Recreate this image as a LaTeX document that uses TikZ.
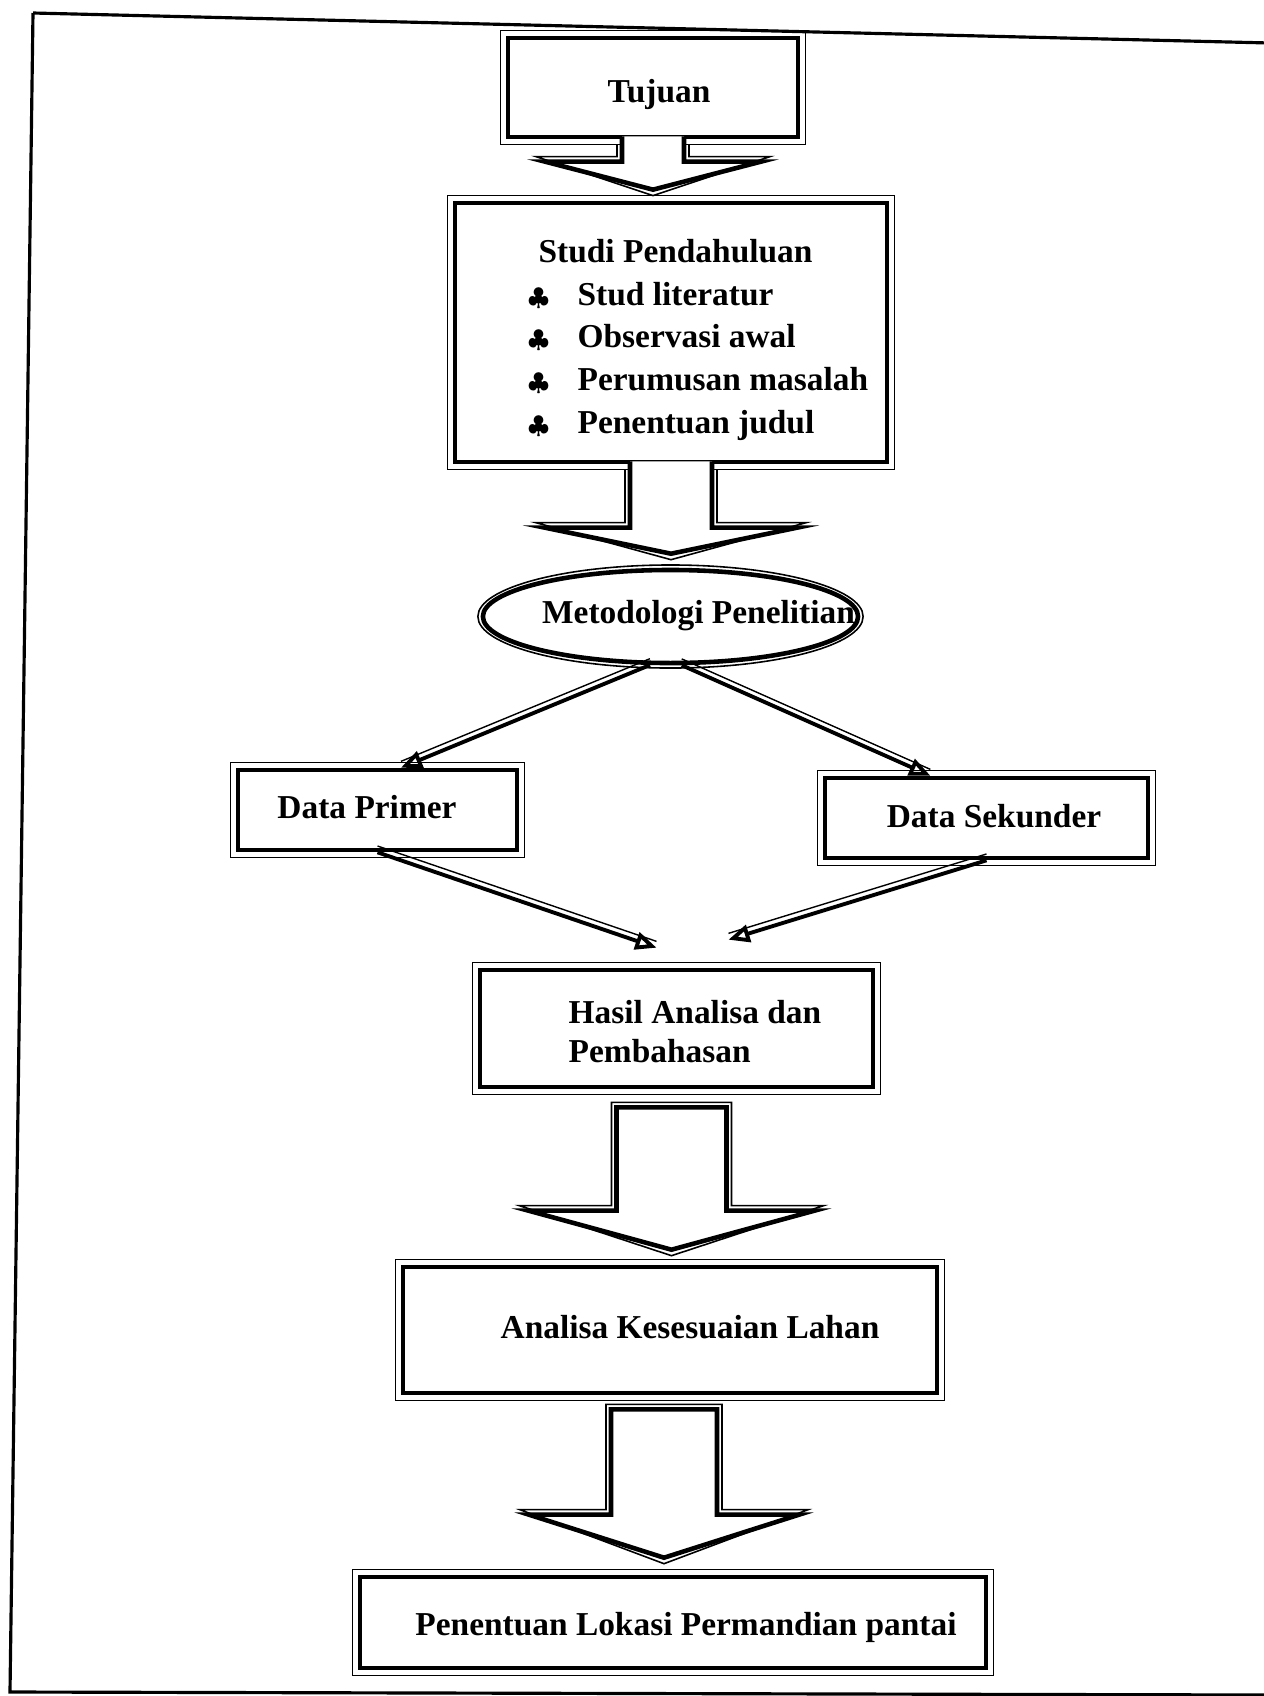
\documentclass[tikz,border=0pt]{standalone}
\usepackage{fontspec}
\setmainfont{Liberation Serif}
\usepackage{tikz}
\usetikzlibrary{arrows.meta,positioning,shapes.geometric,calc}

% block arrow hanging under a box (no top edge): top, tip, stem half width, head half width, head length
\newcommand{\calloutdown}[5]{%
  \coordinate (ct) at (#1);
  \coordinate (cp) at (#1 |- #2);
  \draw[thinline] ($(ct)+(-#3-5,5)$) -- ($(cp)+(-#3-5,-#5-5)$) -- ($(cp)+(-#4-9,-#5-5)$)
    -- ($(cp)+(0,6)$) -- ($(cp)+(#4+9,-#5-5)$) -- ($(cp)+(#3+5,-#5-5)$) -- ($(ct)+(#3+5,5)$);
  \draw[thickline, fill=white] ($(ct)+(-#3,-3)$) -- ($(cp)+(-#3,-#5)$) -- ($(cp)+(-#4,-#5)$)
    -- (cp) -- ($(cp)+(#4,-#5)$) -- ($(cp)+(#3,-#5)$) -- ($(ct)+(#3,-3)$);
}
% free standing block arrow (closed top)
\newcommand{\blockdown}[5]{%
  \coordinate (ct) at (#1);
  \coordinate (cp) at (#1 |- #2);
  \draw[thinline] ($(ct)+(-#3-5,-5)$) -- ($(cp)+(-#3-5,-#5-5)$) -- ($(cp)+(-#4-9,-#5-5)$)
    -- ($(cp)+(0,6)$) -- ($(cp)+(#4+9,-#5-5)$) -- ($(cp)+(#3+5,-#5-5)$) -- ($(ct)+(#3+5,-5)$) -- cycle;
  \draw[thickline, fill=white] ($(ct)+(-#3,0)$) -- ($(cp)+(-#3,-#5)$) -- ($(cp)+(-#4,-#5)$)
    -- (cp) -- ($(cp)+(#4,-#5)$) -- ($(cp)+(#3,-#5)$) -- ($(ct)+(#3,0)$) -- cycle;
}

\tikzset{
  thickline/.style={line width=1.3pt, line join=miter},
  thinline/.style={line width=0.45pt},
  box/.style={draw, thickline, rectangle, inner sep=0pt},
  oval/.style={draw, thickline, ellipse, inner sep=0pt},
  txt/.style={font=\fontsize{9.5}{12.1}\selectfont\bfseries, inner sep=0pt},
  conn/.style={line width=1.1pt, -{Triangle[open,length=6pt,width=5pt]},
    preaction={draw, -, line width=0.4pt, transform canvas={yshift=1.8pt}}},
  frameline/.style={line width=0.9pt}
}

\begin{document}
\begin{tikzpicture}[x=0.01cm, y=-0.01cm]
  \path[fill=white, use as bounding box] (0,0) rectangle (1264,1696);

  % Page frame
  \draw[frameline] (33,13) -- (1270,43);
  \draw[frameline] (33,13) -- (10,1692) -- (1270,1695);

  % Boxes
  \node[box, minimum width=2.90cm, minimum height=0.99cm] (tujuan) at (653,87.5) {};
  \node[box, minimum width=4.32cm, minimum height=2.59cm] (studi) at (671,332.5) {};
  \node[oval, minimum width=3.75cm, minimum height=0.93cm] (metode) at (670.5,616.5) {};
  \node[box, minimum width=2.79cm, minimum height=0.80cm] (primer) at (377.5,810) {};
  \node[box, minimum width=3.23cm, minimum height=0.80cm] (sekunder) at (986.5,818) {};
  \node[box, minimum width=3.93cm, minimum height=1.17cm] (hasil) at (676.5,1028.5) {};
  \node[box, minimum width=5.34cm, minimum height=1.26cm] (analisa) at (670,1330) {};
  \node[box, minimum width=6.26cm, minimum height=0.91cm] (penentuan) at (673,1622.5) {};

  % Thin outer borders
  \foreach \n in {tujuan,studi,primer,sekunder,hasil,analisa,penentuan}
    \draw[thinline] ($(\n.south west)+(-5,5)$) rectangle ($(\n.north east)+(5,-5)$);
  \draw[thinline] (metode.center) ellipse [x radius=1.925cm, y radius=0.515cm];

  % Block arrows
  \coordinate (tujuantip) at ($(studi.north)+(0,-11)$);
  \calloutdown{tujuan.south}{tujuantip}{31}{108}{28}
  \coordinate (studitip) at ($(metode.north)+(0,-14)$);
  \calloutdown{studi.south}{studitip}{41}{126}{26}
  \coordinate (hasiltop) at ($(hasil.south)+(-5,18)$);
  \coordinate (hasiltip) at ($(analisa.north)+(0,-15)$);
  \blockdown{hasiltop}{hasiltip}{55}{143}{39}
  \coordinate (analisatop) at ($(analisa.south)+(-6,14)$);
  \coordinate (analisatip) at ($(penentuan.north)+(0,-17)$);
  \blockdown{analisatop}{analisatip}{53}{135}{43}

  % Connectors
  \draw[conn] (metode.-113) -- (primer.61);
  \draw[conn] (metode.-77) -- (sekunder.143);
  \draw[conn] (primer.south) -- ($(hasil.north)+(-20,-20)$);
  \draw[conn] (sekunder.south) -- ($(hasil.north)+(52,-28)$);

  % Labels
  \node[txt, anchor=base] (tujuantxt) at (659,102) {Tujuan};
  \node[txt, align=left, anchor=north west] (studitxt) at (527,239) {\hspace*{3.1pt}Studi Pendahuluan\\
    \makebox[14.2pt][l]{\scriptsize$\clubsuit$}Stud literatur\\
    \makebox[14.2pt][l]{\scriptsize$\clubsuit$}Observasi awal\\
    \makebox[14.2pt][l]{\scriptsize$\clubsuit$}Perumusan masalah\\
    \makebox[14.2pt][l]{\scriptsize$\clubsuit$}Penentuan judul};
  \node[txt, anchor=base] (metodetxt) at (698.5,623) {Metodologi Penelitian};
  \node[txt, anchor=base] (primertxt) at (367,818) {Data Primer};
  \node[txt, anchor=base] (sekundertxt) at (994,827) {Data Sekunder};
  \node[txt, align=left, anchor=north west, font=\fontsize{9.5}{11.1}\selectfont\bfseries] (hasiltxt) at (568,1000) {Hasil Analisa dan\\Pembahasan};
  \node[txt, anchor=base] (analisatxt) at (690,1338) {Analisa Kesesuaian Lahan};
  \node[txt, anchor=base] (penentuantxt) at (686,1635) {Penentuan Lokasi Permandian pantai};
\end{tikzpicture}
\end{document}
